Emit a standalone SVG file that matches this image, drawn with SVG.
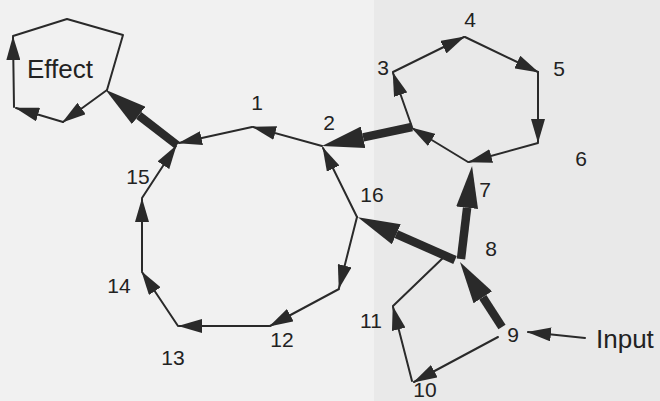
<svg xmlns="http://www.w3.org/2000/svg" width="660" height="401" viewBox="0 0 660 401">
<style>
.bg{fill:#f1f1f1}
.bg2{fill:#e9e9e9}
.e{stroke:#2a2a2a;stroke-width:2;fill:none;stroke-linecap:round;stroke-linejoin:round}
.a{marker-end:url(#thin)}
.t{stroke:#2a2a2a;stroke-width:8.5;fill:none;stroke-linecap:butt;marker-end:url(#thick)}
text{font-family:"Liberation Sans",Arial,sans-serif;fill:#222;font-size:21px;text-anchor:middle}
.big{font-size:26px;text-anchor:start}
</style>
<defs>
<marker id="thin" markerUnits="userSpaceOnUse" viewBox="0 0 24 14" refX="23" refY="7" markerWidth="24" markerHeight="14" orient="auto">
<path d="M0,0 L24,7 L0,14 z" fill="#2a2a2a"/>
</marker>
<marker id="thick" markerUnits="userSpaceOnUse" viewBox="0 -11 42 22" refX="0" refY="0" markerWidth="42" markerHeight="22" orient="auto">
<path d="M0,-11 L42,0 L0,11 z" fill="#2a2a2a"/>
</marker>
</defs>
<rect class="bg" x="0" y="0" width="660" height="401"/>
<rect class="bg2" x="374" y="0" width="286" height="401"/>

<g id="connectors">
<!-- Effect loop -->
<line class="e a" x1="107" y1="90" x2="63" y2="122"/>
<line class="e a" x1="63" y1="122" x2="16" y2="108"/>
<line class="e a" x1="14" y1="107" x2="13" y2="37"/>
<polyline class="e" points="13,36 67,19 123,35 107,90"/>
<!-- big loop -->
<line class="e a" x1="322" y1="146" x2="253" y2="127"/>
<line class="e a" x1="252" y1="127" x2="179" y2="143"/>
<line class="e a" x1="357" y1="217" x2="323" y2="148"/>
<line class="e a" x1="357" y1="217" x2="339" y2="288"/>
<line class="e a" x1="339" y1="289" x2="270" y2="326"/>
<line class="e a" x1="269" y1="326" x2="179" y2="326"/>
<line class="e a" x1="178" y1="326" x2="142" y2="272"/>
<line class="e a" x1="142" y1="271" x2="142" y2="199"/>
<line class="e a" x1="142" y1="198" x2="176" y2="146"/>
<!-- hexagon -->
<line class="e a" x1="412" y1="127" x2="393" y2="73"/>
<line class="e a" x1="393" y1="72" x2="464" y2="37"/>
<line class="e a" x1="465" y1="37" x2="538" y2="72"/>
<line class="e a" x1="538" y1="72" x2="538" y2="142"/>
<line class="e a" x1="538" y1="143" x2="469" y2="162"/>
<line class="e a" x1="468" y1="162" x2="412" y2="128"/>
<!-- lower loop -->
<line class="e" x1="393" y1="306" x2="446" y2="255"/>
<line class="e a" x1="498" y1="337" x2="414" y2="382"/>
<line class="e a" x1="412" y1="381" x2="393" y2="307"/>
<line class="e a" x1="585" y1="338" x2="528" y2="332"/>
<!-- thick arrows -->
<line class="t" x1="177" y1="145" x2="138.7" y2="115.4"/>
<line class="t" x1="412" y1="127" x2="363.1" y2="137.3"/>
<line class="t" x1="461" y1="259" x2="467.1" y2="207.7"/>
<line class="t" x1="455" y1="260" x2="396.3" y2="234.2"/>
<line class="t" x1="502" y1="327" x2="482.8" y2="297.3"/>
</g>

<g id="node-effect"><text class="big" x="27" y="78">Effect</text></g>
<g id="node-input"><text class="big" x="596" y="348">Input</text></g>
<g id="node-1"><text x="257" y="110">1</text></g>
<g id="node-2"><text x="329" y="130">2</text></g>
<g id="node-3"><text x="383" y="75">3</text></g>
<g id="node-4"><text x="470" y="27">4</text></g>
<g id="node-5"><text x="559" y="76">5</text></g>
<g id="node-6"><text x="581" y="166">6</text></g>
<g id="node-7"><text x="485" y="197">7</text></g>
<g id="node-8"><text x="491" y="256">8</text></g>
<g id="node-9"><text x="513" y="342">9</text></g>
<g id="node-10"><text x="425" y="397">10</text></g>
<g id="node-11"><text x="371" y="328">11</text></g>
<g id="node-12"><text x="282" y="347">12</text></g>
<g id="node-13"><text x="173" y="365">13</text></g>
<g id="node-14"><text x="119" y="293">14</text></g>
<g id="node-15"><text x="138" y="184">15</text></g>
<g id="node-16"><text x="372" y="202">16</text></g>
</svg>
